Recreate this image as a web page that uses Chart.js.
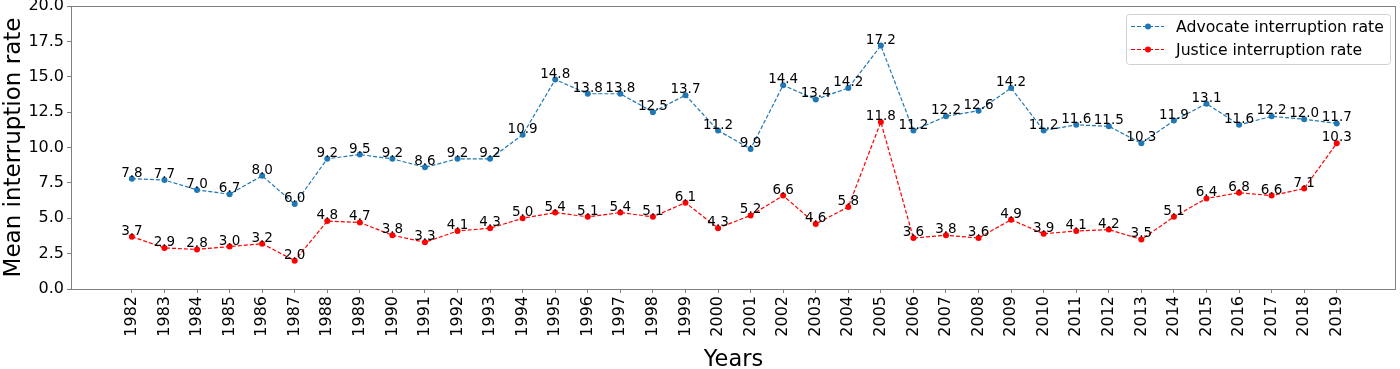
<!DOCTYPE html>
<html>
<head>
<meta charset="utf-8">
<script src="https://cdn.jsdelivr.net/npm/chart.js@4.4.1/dist/chart.umd.min.js"></script>
<style>
    html, body { margin: 0; padding: 0; background: #fff; }
    #wrap { width: 1400px; height: 369px; }
</style>
</head>
<body>
<div id="wrap"><canvas id="grafico" width="1400" height="369"></canvas></div>
<script>
const years = [1982, 1983, 1984, 1985, 1986, 1987, 1988, 1989, 1990, 1991, 1992, 1993, 1994, 1995, 1996, 1997, 1998, 1999, 2000,
    2001, 2002, 2003, 2004, 2005, 2006, 2007, 2008, 2009, 2010, 2011, 2012, 2013, 2014, 2015, 2016, 2017, 2018, 2019];
const advocateRate = [7.8, 7.7, 7.0, 6.7, 8.0, 6.0, 9.2, 9.5, 9.2, 8.6, 9.2, 9.2, 10.9, 14.8, 13.8, 13.8, 12.5, 13.7, 11.2,
    9.9, 14.4, 13.4, 14.2, 17.2, 11.2, 12.2, 12.6, 14.2, 11.2, 11.6, 11.5, 10.3, 11.9, 13.1, 11.6, 12.2, 12.0, 11.7];
const justiceRate = [3.7, 2.9, 2.8, 3.0, 3.2, 2.0, 4.8, 4.7, 3.8, 3.3, 4.1, 4.3, 5.0, 5.4, 5.1, 5.4, 5.1, 6.1, 4.3,
    5.2, 6.6, 4.6, 5.8, 11.8, 3.6, 3.8, 3.6, 4.9, 3.9, 4.1, 4.2, 3.5, 5.1, 6.4, 6.8, 6.6, 7.1, 10.3];
const yTicks = [0, 2.5, 5, 7.5, 10, 12.5, 15, 17.5, 20];

const FONT = "'DejaVu Sans', sans-serif";
const spineColor = '#808080';

const toPoints = (arr) => arr.map((v, i) => ({ x: years[i], y: v }));

// etiquetas de valor encima de cada punto
const valueLabels = {
    id: 'valueLabels',
    afterDatasetsDraw(chart) {
        const ctx = chart.ctx;
        ctx.save();
        ctx.font = '13.5px ' + FONT;
        ctx.fillStyle = '#000';
        ctx.textAlign = 'center';
        ctx.textBaseline = 'alphabetic';
        chart.data.datasets.forEach((ds, di) => {
            chart.getDatasetMeta(di).data.forEach((pt, i) => {
                ctx.fillText(ds.data[i].y.toFixed(1), pt.x, pt.y - 2);
            });
        });
        ctx.restore();
    }
};

// marco completo + leyenda con caja
const frameLegend = {
    id: 'frameLegend',
    afterDraw(chart) {
        const ctx = chart.ctx;
        const a = chart.chartArea;
        ctx.save();
        ctx.strokeStyle = spineColor;
        ctx.lineWidth = 1;
        ctx.strokeRect(a.left + 0.5, a.top + 0.5, a.right - a.left - 1, a.bottom - a.top);

        const bx = a.right - 270, by = a.top + 8, bw = 264, bh = 50;
        ctx.fillStyle = 'rgba(255,255,255,0.8)';
        ctx.strokeStyle = '#d0d0d0';
        ctx.beginPath();
        ctx.roundRect(bx + 0.5, by + 0.5, bw, bh, 3);
        ctx.fill();
        ctx.stroke();

        ctx.font = '15.7px ' + FONT;
        ctx.textBaseline = 'middle';
        ctx.textAlign = 'left';
        chart.data.datasets.forEach((ds, i) => {
            const y = by + 12.5 + i * 23;
            ctx.strokeStyle = ds.borderColor;
            ctx.setLineDash(ds.borderDash);
            ctx.beginPath();
            ctx.moveTo(bx + 5, y);
            ctx.lineTo(bx + 38, y);
            ctx.stroke();
            ctx.setLineDash([]);
            ctx.fillStyle = ds.borderColor;
            ctx.beginPath();
            ctx.arc(bx + 22, y, 3, 0, Math.PI * 2);
            ctx.fill();
            ctx.fillStyle = '#000';
            ctx.fillText(ds.label, bx + 50, y + 1);
        });
        ctx.restore();
    }
};

new Chart(document.getElementById('grafico'), {
    type: 'line',
    data: {
        datasets: [{
            label: 'Advocate interruption rate',
            data: toPoints(advocateRate),
            borderColor: '#1f77b4',
            backgroundColor: '#1f77b4',
            borderWidth: 1.2,
            borderDash: [4, 2],
            pointRadius: 3,
            pointBorderWidth: 0,
            tension: 0
        }, {
            label: 'Justice interruption rate',
            data: toPoints(justiceRate),
            borderColor: '#ff0000',
            backgroundColor: '#ff0000',
            borderWidth: 1.2,
            borderDash: [4, 2],
            pointRadius: 3,
            pointBorderWidth: 0,
            tension: 0
        }]
    },
    options: {
        responsive: false,
        animation: false,
        layout: { padding: { top: 6, right: 0, left: 0, bottom: 0 } },
        plugins: {
            legend: { display: false },
            tooltip: { enabled: false }
        },
        scales: {
            x: {
                type: 'linear',
                min: 1980.13,
                max: 2020.82,
                afterBuildTicks: (s) => { s.ticks = years.map(v => ({ value: v })); },
                afterFit: (s) => { s.height = 80; s.paddingLeft = 0; s.paddingRight = 0; },
                grid: { drawOnChartArea: false, drawTicks: true, tickLength: 4, color: spineColor },
                border: { display: false },
                ticks: {
                    autoSkip: false,
                    minRotation: 90,
                    maxRotation: 90,
                    padding: 3,
                    color: '#000',
                    font: { family: FONT, size: 16 },
                    callback: (v) => String(v)
                },
                title: {
                    display: true,
                    text: 'Years',
                    color: '#000',
                    font: { family: FONT, size: 22.5 },
                    padding: { top: 0, bottom: -5 }
                }
            },
            y: {
                min: 0,
                max: 20,
                afterBuildTicks: (s) => { s.ticks = yTicks.map(v => ({ value: v })); },
                afterFit: (s) => { s.width = 71; s.paddingTop = 0; s.paddingBottom = 0; },
                grid: { drawOnChartArea: false, drawTicks: true, tickLength: 4, color: spineColor },
                border: { display: false },
                ticks: {
                    padding: 3,
                    color: '#000',
                    font: { family: FONT, size: 16 },
                    callback: (v) => v.toFixed(1)
                },
                title: {
                    display: true,
                    text: 'Mean interruption rate',
                    color: '#000',
                    font: { family: FONT, size: 23 },
                    padding: { top: 0, bottom: 0 }
                }
            }
        }
    },
    plugins: [valueLabels, frameLegend]
});
</script>
</body>
</html>
